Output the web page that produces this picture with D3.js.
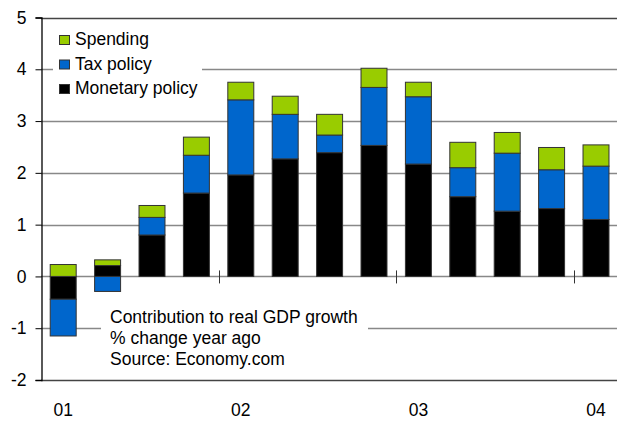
<!DOCTYPE html>
<html>
<head>
<meta charset="utf-8">
<script src="https://cdn.jsdelivr.net/npm/d3@7"></script>
<style>
  html, body { margin: 0; padding: 0; background: #fff; }
  svg { display: block; font-family: "Liberation Sans", Arial, sans-serif; }
</style>
</head>
<body>
<svg id="chart" width="617" height="424"></svg>
<script>
// ---- data ----
const quarters = ["01Q1","01Q2","01Q3","01Q4","02Q1","02Q2","02Q3","02Q4","03Q1","03Q2","03Q3","03Q4","04Q1"];
const monetary = [-0.44, 0.21, 0.80, 1.61, 1.96, 2.27, 2.39, 2.53, 2.17, 1.54, 1.26, 1.31, 1.10];
const tax      = [-0.71, -0.29, 0.34, 0.73, 1.45, 0.86, 0.34, 1.12, 1.30, 0.56, 1.12, 0.75, 1.03];
const spending = [0.23, 0.11, 0.23, 0.35, 0.34, 0.35, 0.40, 0.37, 0.28, 0.49, 0.40, 0.43, 0.41];
const seriesNames = ["Monetary policy", "Tax policy", "Spending"];
const legendOrder = ["Spending", "Tax policy", "Monetary policy"];
const yearLabels = ["01", "02", "03", "04"];
const yearLabelQuarters = ["01Q1", "02Q1", "03Q1", "04Q1"];
const yearBoundaryQuarters = ["02Q1", "03Q1", "04Q1"];
const yTicks = [-2, -1, 0, 1, 2, 3, 4, 5];
const noteLines = ["Contribution to real GDP growth", "% change year ago", "Source: Economy.com"];

const colors = { "Monetary policy": "#000000", "Tax policy": "#0066CC", "Spending": "#99CC00" };

// ---- build table ----
const table = quarters.map((q, i) => ({
  q, "Monetary policy": monetary[i], "Tax policy": tax[i], "Spending": spending[i]
}));

const svg = d3.select("#chart");
const mLeft = 41, mRight = 617, mTop = 17.5, mBottom = 380;
const fs = 17.5;

const x = d3.scaleBand().domain(quarters).range([mLeft, mLeft + 13 * 44.4])
  .paddingInner(0.415).paddingOuter(0.2075);
const y = d3.scaleLinear().domain([-2, 5]).range([mBottom, mTop]);

const stack = d3.stack().keys(seriesNames).offset(d3.stackOffsetDiverging);
const stacked = stack(table);

// gridlines
svg.append("g").selectAll("line").data(yTicks.filter(d => d !== 0)).join("line")
  .attr("x1", mLeft).attr("x2", mRight)
  .attr("y1", d => Math.round(y(d)) + 0.5).attr("y2", d => Math.round(y(d)) + 0.5)
  .attr("stroke", d => (d === 5 || d === -2) ? "#444" : "#888")
  .attr("stroke-width", 1.3);

// zero line
svg.append("line").attr("x1", mLeft).attr("x2", mRight)
  .attr("y1", Math.round(y(0)) + 0.5).attr("y2", Math.round(y(0)) + 0.5)
  .attr("stroke", "#888").attr("stroke-width", 1.3);

// bars
svg.append("g").selectAll("g").data(stacked).join("g")
  .attr("fill", d => colors[d.key])
  .selectAll("rect").data(d => d).join("rect")
  .attr("x", d => x(d.data.q))
  .attr("width", x.bandwidth())
  .attr("y", d => y(Math.max(d[0], d[1])))
  .attr("height", d => Math.abs(y(d[0]) - y(d[1])))
  .attr("stroke", "#333").attr("stroke-width", 1);

// year boundary ticks on zero line
svg.append("g").selectAll("line").data(yearBoundaryQuarters).join("line")
  .attr("x1", d => Math.round(x(d) - x.step() * x.paddingInner() / 2) + 0.5)
  .attr("x2", d => Math.round(x(d) - x.step() * x.paddingInner() / 2) + 0.5)
  .attr("y1", y(0) - 6).attr("y2", y(0) + 7)
  .attr("stroke", "#333").attr("stroke-width", 1);

// y axis
const yAxis = d3.axisLeft(y).tickValues(yTicks).tickSize(6).tickFormat(d => String(d));
const gy = svg.append("g").attr("transform", `translate(${mLeft + 0.5},0)`).call(yAxis);
gy.select(".domain").attr("stroke", "#000").attr("stroke-width", 1.3);
gy.selectAll(".tick line").attr("stroke", "#000");
gy.selectAll(".tick text").attr("x", -15).attr("font-size", fs)
  .attr("font-family", "Liberation Sans, Arial, sans-serif").attr("fill", "#000");

// x labels
svg.append("g").selectAll("text").data(yearLabels).join("text")
  .attr("x", (d, i) => x(yearLabelQuarters[i]) + x.bandwidth() / 2)
  .attr("y", 416)
  .attr("text-anchor", "middle").attr("font-size", fs).text(d => d);

// legend
const lg = svg.append("g");
lg.append("rect").attr("x", 53).attr("y", 28).attr("width", 149).attr("height", 72).attr("fill", "#fff");
const items = lg.selectAll("g").data(legendOrder).join("g")
  .attr("transform", (d, i) => `translate(0,${45 + i * 24.5})`);
items.append("rect").attr("x", 59.5).attr("y", -9.5).attr("width", 10).attr("height", 9)
  .attr("fill", d => colors[d]).attr("stroke", "#333").attr("stroke-width", 1);
items.append("text").attr("x", 75).attr("y", 0).attr("font-size", fs).text(d => d);

// note box
const ng = svg.append("g");
ng.append("rect").attr("x", 101).attr("y", 300).attr("width", 267).attr("height", 72).attr("fill", "#fff");
ng.selectAll("text").data(noteLines).join("text")
  .attr("x", 110).attr("y", (d, i) => 323 + i * 21)
  .attr("font-size", fs).text(d => d);
</script>
</body>
</html>
